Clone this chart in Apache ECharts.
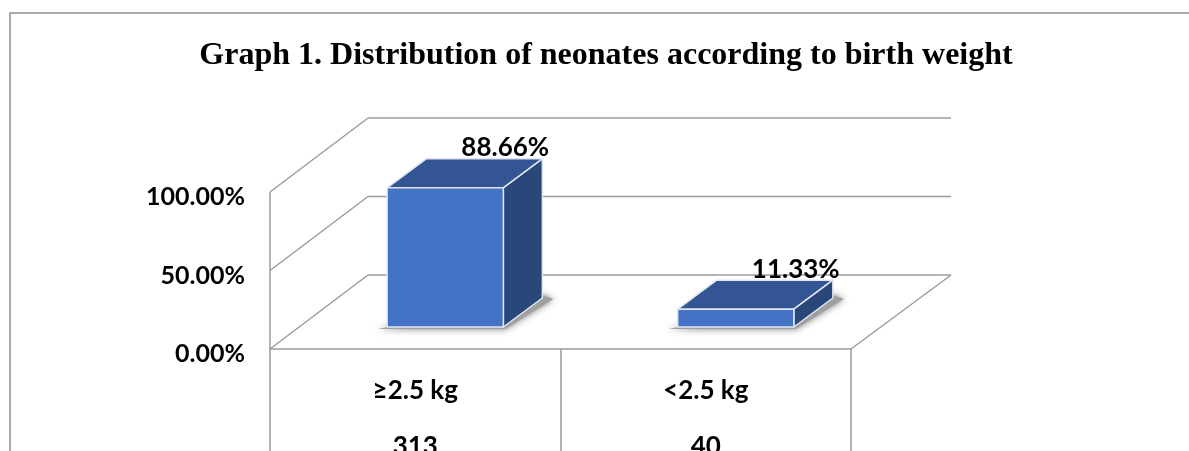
<!DOCTYPE html>
<html>
<head>
<meta charset="utf-8">
<title>Graph 1</title>
<style>
html, body { margin: 0; padding: 0; background: #fff; }
#chart { width: 1189px; height: 451px; overflow: hidden; }
</style>
<script src="https://cdn.jsdelivr.net/npm/echarts@6/dist/echarts.min.js"></script>
</head>
<body>
<div id="chart"></div>
<script>
const categories = ['≥2.5 kg', '<2.5 kg']
const counts = [313, 40]
const percents = [88.66, 11.33]
const yTicks = [0, 50, 100]

const fontFamily = 'Lato, "Noto Sans", sans-serif'
const lineColor = '#9c9c9c'

// fake 3d: how far the back wall and the bar depth are pushed, in px
const wallDepth = [98, -74]
const barDepth = [39, -29]
const barShift = [30, -22]

const chart = echarts.init(document.getElementById('chart'))

function poly (points, style, z2) {
  return { type: 'polygon', shape: { points }, style, z2: z2 || 0, silent: true }
}

function line (a, b) {
  return {
    type: 'line',
    shape: { x1: a[0], y1: a[1], x2: b[0], y2: b[1] },
    style: { stroke: lineColor, lineWidth: 1.5 },
    silent: true
  }
}

function renderWalls (params, api) {
  const size = api.size([1, 0])[0]
  const children = []
  yTicks.forEach(t => {
    const a = api.coord([0, t])
    a[0] = a[0] - size / 2
    const b = [a[0] + wallDepth[0], a[1] + wallDepth[1]]
    children.push(line(a, b))
    children.push(line(b, [b[0] + size * 2 + 2, b[1]]))
  })
  const top = api.coord([0, yTicks[yTicks.length - 1]])
  const bottom = api.coord([0, yTicks[0]])
  const left = top[0] - size / 2
  children.push(line([left, top[1]], [left, bottom[1]]))
  // right edge of the floor
  const right = bottom[0] - size / 2 + size * 2
  children.push(line([right, bottom[1]], [right + wallDepth[0] + 2, bottom[1] + wallDepth[1]]))
  return { type: 'group', children }
}

function renderBar (params, api) {
  const i = api.value(0)
  const top = api.coord([i, api.value(1)])
  const base = api.coord([i, 0])
  const w = api.size([1, 0])[0] * 0.4
  const x0 = base[0] - w / 2 + barShift[0]
  const x1 = x0 + w
  const yb = base[1] + barShift[1]
  const yt = top[1] + barShift[1]
  const dx = barDepth[0]
  const dy = barDepth[1]
  const edge = { stroke: '#dfe6f2', lineWidth: 1.5, lineJoin: 'round' }
  return {
    type: 'group',
    children: [
      {
        type: 'polygon',
        shape: { points: [[x0 - 9, yb + 2], [x1 + 2, yb + 2], [x1 + dx + 11, yb + dy + 1], [x1 + dx, yb + dy - 3], [x0, yb]] },
        style: { fill: '#a0a0a0', shadowBlur: 7, shadowColor: 'rgba(110,110,110,0.9)' },
        silent: true
      },
      poly([[x0, yt], [x1, yt], [x1 + dx, yt + dy], [x0 + dx, yt + dy]], { fill: '#335593', ...edge }),
      poly([[x1, yt], [x1 + dx, yt + dy], [x1 + dx, yb + dy], [x1, yb]], { fill: '#2a4779', ...edge }),
      poly([[x0, yt], [x1, yt], [x1, yb], [x0, yb]], { fill: '#4472c4', ...edge }),
      {
        type: 'text',
        x: (x0 + x1) / 2 + 60,
        y: yt - 40,
        z2: 10,
        style: {
          text: api.value(1).toFixed(2) + '%',
          fontFamily,
          fontWeight: 'bold',
          fontSize: 26,
          fill: '#000',
          align: 'center',
          verticalAlign: 'middle'
        }
      }
    ]
  }
}

chart.setOption({
  animation: false,
  backgroundColor: '#fff',
  title: {
    text: 'Graph 1. Distribution of neonates according to birth weight',
    left: 601,
    top: 35,
    textAlign: 'center',
    textStyle: {
      fontFamily: '"Liberation Serif", serif',
      fontWeight: 'bold',
      fontSize: 32,
      color: '#000'
    }
  },
  grid: { left: 270, top: 192, width: 581, height: 157, outerBoundsMode: 'none' },
  xAxis: {
    type: 'category',
    data: categories,
    axisLine: { lineStyle: { color: lineColor, width: 1.5 } },
    axisTick: { show: true, length: 110, lineStyle: { color: lineColor, width: 1.5 } },
    axisLabel: {
      interval: 0,
      margin: 14,
      fontFamily,
      fontWeight: 'bold',
      fontSize: 26,
      lineHeight: 56,
      color: '#000',
      formatter: (v, i) => v + '\n' + counts[i]
    }
  },
  yAxis: {
    type: 'value',
    min: 0,
    max: 100,
    interval: 50,
    axisLine: { show: false },
    axisTick: { show: false },
    splitLine: { show: false },
    axisLabel: {
      margin: 25,
      verticalAlign: 'top',
      lineHeight: 10,
      fontFamily,
      fontWeight: 'bold',
      fontSize: 25,
      color: '#000',
      formatter: v => v.toFixed(2) + '%'
    }
  },
  graphic: [{
    type: 'polyline',
    shape: { points: [[10, 451], [10, 13], [1189, 13]] },
    style: { stroke: '#909090', lineWidth: 1.5, fill: null },
    silent: true
  }],
  series: [{
    type: 'custom',
    renderItem: renderWalls,
    data: [[0, 0]],
    encode: { x: 0, y: 1 },
    clip: false,
    silent: true,
    z: 1
  }, {
    type: 'custom',
    renderItem: renderBar,
    data: percents.map((p, i) => [i, p]),
    encode: { x: 0, y: 1 },
    clip: false,
    silent: true,
    z: 2
  }]
})
</script>
</body>
</html>
